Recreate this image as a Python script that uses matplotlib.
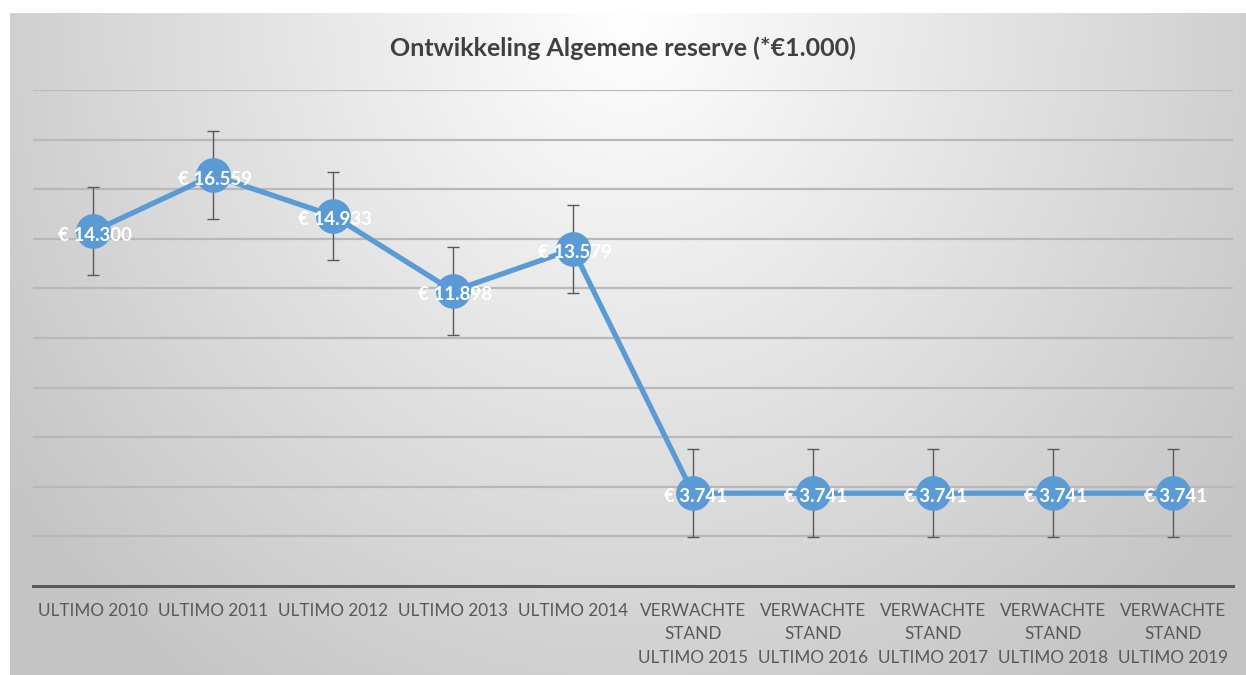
import numpy as np
import matplotlib
matplotlib.use('Agg')
import matplotlib.pyplot as plt

categories = ['ULTIMO 2010', 'ULTIMO 2011', 'ULTIMO 2012', 'ULTIMO 2013', 'ULTIMO 2014',
              'VERWACHTE\nSTAND\nULTIMO 2015', 'VERWACHTE\nSTAND\nULTIMO 2016',
              'VERWACHTE\nSTAND\nULTIMO 2017', 'VERWACHTE\nSTAND\nULTIMO 2018',
              'VERWACHTE\nSTAND\nULTIMO 2019']
values = [14300, 16559, 14933, 11898, 13579, 3741, 3741, 3741, 3741, 3741]
labels = ['€ 14.300', '€ 16.559', '€ 14.933', '€ 11.898', '€ 13.579',
          '€ 3.741', '€ 3.741', '€ 3.741', '€ 3.741', '€ 3.741']
error = 1775
title = 'Ontwikkeling Algemene reserve (*€1.000)'

plt.rcParams['font.family'] = ['Lato', 'DejaVu Sans']
blue = '#5B9BD5'
grey = '#595959'

fig = plt.figure(figsize=(12.46, 6.75), dpi=100)
fig.patch.set_facecolor('white')

# radial grey background of the chart area
bg = fig.add_axes([10 / 1246, 0, 1 - 10 / 1246, 1 - 13 / 675])
h, w = 331, 618
yy, xx = np.mgrid[0:h, 0:w]
d = np.sqrt(((xx - w * 0.5) / (w * 0.62)) ** 2 + ((yy) / (h * 1.25)) ** 2)
d = np.clip(d, 0, 1)
shade = 1.0 - 0.23 * d
bg.imshow(np.dstack([shade] * 3), aspect='auto', extent=[0, 1, 1, 0])
bg.set_axis_off()

ax = fig.add_axes([33 / 1246, 89 / 675, 1200 / 1246, 496 / 675])
ax.patch.set_alpha(0)
x = np.arange(len(values))
ax.set_xlim(-0.5, len(values) - 0.5)
ax.set_ylim(0, 20000)
ax.set_yticks(np.arange(2000, 20001, 2000))
ax.grid(axis='y', color='#b8b8b8', lw=1.6)
ax.set_axisbelow(True)
for s in ['top', 'right', 'left']:
    ax.spines[s].set_visible(False)
ax.spines['bottom'].set_color(grey)
ax.spines['bottom'].set_linewidth(2.2)
ax.tick_params(axis='y', length=0, labelleft=False)
ax.tick_params(axis='x', length=0, pad=12)
ax.set_xticks(x)
ax.set_xticklabels(categories, fontsize=12.3, color=grey, linespacing=1.6, va='top')

ax.errorbar(x, values, yerr=error, fmt='none', ecolor=grey, elinewidth=1, capsize=4, capthick=1, zorder=2)
ax.plot(x, values, color=blue, lw=3.8, marker='o', markersize=24, zorder=3)
for xi, v, lab in zip(x, values, labels):
    ax.text(xi + 0.02, v - 150, lab, ha='center', va='center', color='white', fontsize=13.5,
            fontweight='bold', zorder=4)

fig.text(0.5, 1 - 48 / 675, title, ha='center', va='center', fontsize=18,
         fontweight='bold', color='#404040')

fig.savefig('out.png', dpi=100)
